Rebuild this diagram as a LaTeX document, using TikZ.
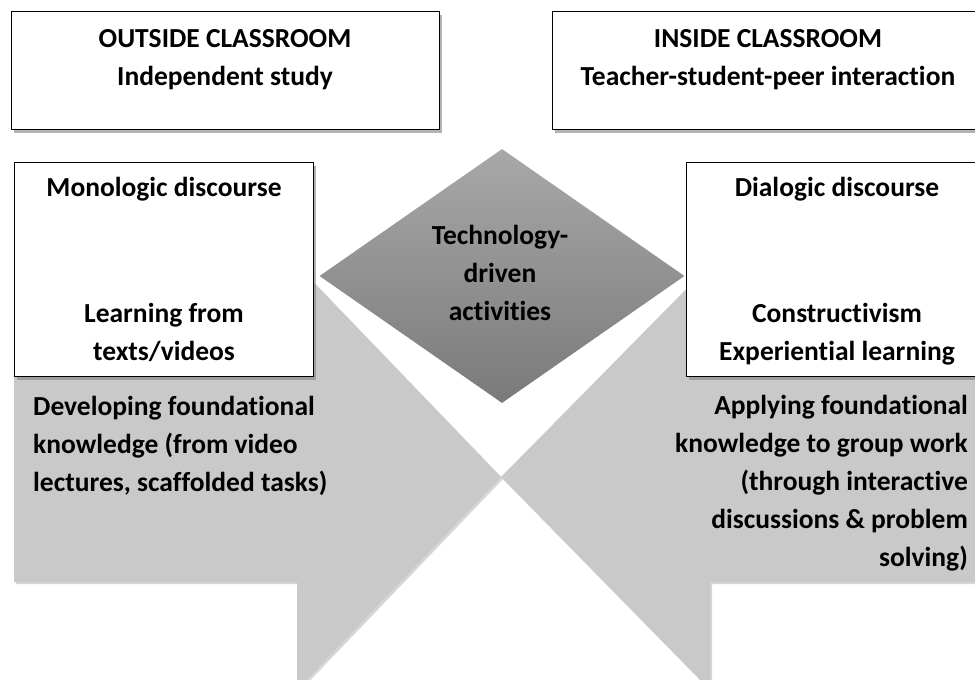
\documentclass[tikz,border=0pt]{standalone}
\usepackage{fontspec}
\setmainfont{Carlito}[Ligatures=NoCommon]
\usetikzlibrary{positioning, shapes.geometric, shadows}

\definecolor{arrowgray}{RGB}{201,201,201}
\definecolor{techtop}{RGB}{168,168,168}
\definecolor{techbottom}{RGB}{122,122,122}

\tikzset{
    box/.style={draw, thick, rectangle, fill=white, inner sep=0pt,
        drop shadow={shadow xshift=3pt, shadow yshift=-4pt, fill=black!50, opacity=.6}},
    lbl/.style={font=\bfseries\fontsize{27.5}{38}\selectfont, inner sep=0pt},
    bigarrow/.style={fill=arrowgray,
        drop shadow={shadow xshift=2pt, shadow yshift=-2pt, fill=black!40, opacity=.4}}
}

\begin{document}
\begin{tikzpicture}[x=1pt, y=-1pt]
    \useasboundingbox (0,0) rectangle (975,680);

    % Arrows
    \coordinate (tip) at (501,477);
    \path[bigarrow] (14,362) -- (297,362) -- (297,265) -- (tip) -- (297,690) -- (297,582) -- (14,582) -- cycle;
    \path[bigarrow] (990,362) -- (710,362) -- (710,265) -- (tip) -- (710,690) -- (710,582) -- (990,582) -- cycle;

    % Boxes
    \node[box, minimum width=428pt, minimum height=118pt, anchor=north west] (outside) at (11,11) {};
    \node[box, minimum width=434pt, minimum height=118pt, right=112pt of outside] (inside) {};
    \node[box, minimum width=299pt, minimum height=214pt, anchor=north west] (mono) at (14,162) {};
    \node[box, minimum width=302pt, minimum height=214pt, anchor=north west] (dialog) at (686,162) {};
    \node[diamond, minimum width=365pt, minimum height=254pt,
        top color=techtop, bottom color=techbottom] (tech) at (502,276) {};

    % Texts (base = last line)
    \node[lbl, align=center, anchor=base] (outsidetxt) at (225,85) {OUTSIDE CLASSROOM\\Independent study};
    \node[lbl, align=center, anchor=base] (insidetxt) at (768,85) {INSIDE CLASSROOM\\Teacher-student-peer interaction};
    \node[lbl, anchor=base] (monotop) at (164,196) {Monologic discourse};
    \node[lbl, align=center, anchor=base] (monobot) at (164,360) {Learning from\\texts/videos};
    \node[lbl, anchor=base] (dialogtop) at (837,196) {Dialogic discourse};
    \node[lbl, align=center, anchor=base] (dialogbot) at (837,360) {Constructivism\\Experiential learning};
    \node[lbl, align=center, anchor=base] (techtxt) at (500,320) {Technology-\\driven\\activities};
    \node[lbl, align=left, anchor=base west] (develop) at (33,491) {Developing foundational\\knowledge (from video\\lectures, scaffolded tasks)};
    \node[lbl, align=right, anchor=base east] (apply) at (968,566) {Applying foundational\\knowledge to group work\\(through interactive\\discussions \& problem\\solving)};
\end{tikzpicture}
\end{document}
